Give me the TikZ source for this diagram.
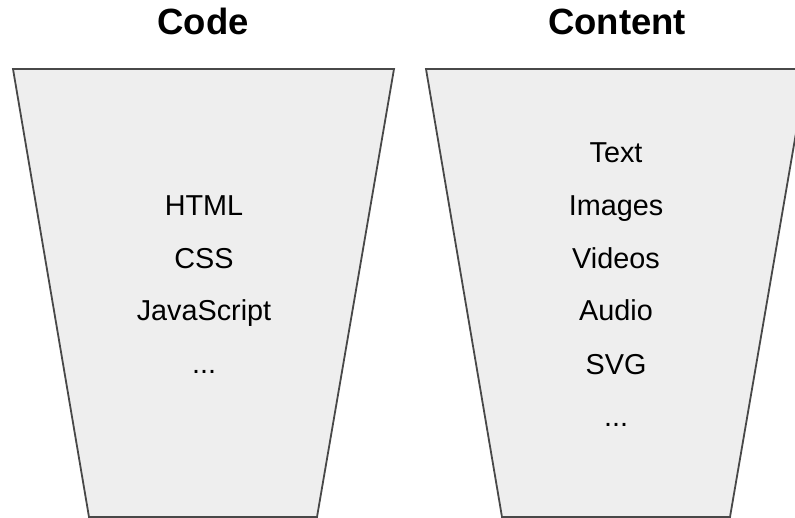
\documentclass[tikz,border=0pt]{standalone}
\usepackage{fontspec}
\setmainfont{Liberation Sans}
\definecolor{funfill}{RGB}{238,238,238}
\definecolor{funline}{RGB}{72,72,72}
\begin{document}
\begin{tikzpicture}[x=1pt,y=-1pt,
  funnel/.style={fill=funfill,draw=funline,line width=1.8pt,line join=miter},
  item/.style={anchor=base,font=\fontsize{28.8}{32}\selectfont,text=black,inner sep=0pt},
  title/.style={anchor=base,font=\bfseries\fontsize{36.5}{42}\selectfont,inner sep=0pt}]
\useasboundingbox (0,0) rectangle (795,518);
\clip (0,0) rectangle (795,518);
\draw[funnel] (13,69) -- (394,69) -- (317,517) -- (89,517) -- cycle;
\draw[funnel] (426,69) -- (807,69) -- (730,517) -- (502,517) -- cycle;
\node[title] (code) at (203,35) {Code};
\node[title] (content) at (617,35) {Content};
\node[item] (html) at (204,216) {HTML};
\node[item] (css) at (204,268.5) {CSS};
\node[item] (js) at (204,321) {JavaScript};
\node[item] (ldots) at (204,373.5) {...};
\node[item] (text) at (616,163) {Text};
\node[item] (images) at (616,216) {Images};
\node[item] (videos) at (616,268.5) {Videos};
\node[item] (audio) at (616,321) {Audio};
\node[item] (svg) at (616,374) {SVG};
\node[item] (rdots) at (616,426) {...};
\end{tikzpicture}
\end{document}
